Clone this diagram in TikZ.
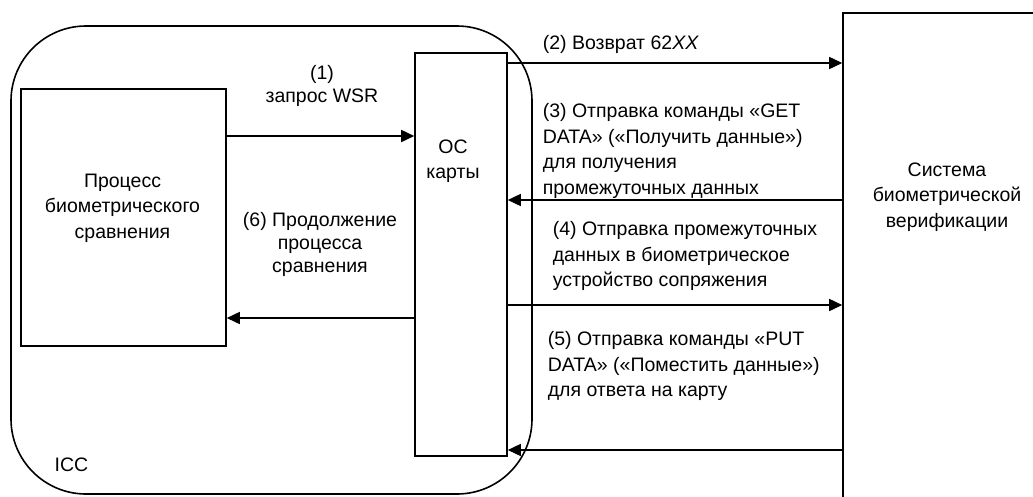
\documentclass[tikz,border=0pt]{standalone}
\usepackage{fontspec}
\setmainfont{Liberation Sans}
\usetikzlibrary{arrows.meta}

\begin{document}
\begin{tikzpicture}[x=1pt,y=-1pt,->,>={Triangle[length=13pt,width=12pt]},line width=1.6pt,
  box node/.style={draw,rectangle,inner sep=0pt},
  name txt/.style={font=\fontsize{19.5}{25.5}\selectfont,inner sep=0pt,align=center},
  step txt/.style={font=\fontsize{19.5}{23}\selectfont,inner sep=0pt,align=center},
  msg/.style={font=\fontsize{19.5}{25.5}\selectfont,inner sep=0pt,align=left,anchor=north west}]

  \useasboundingbox (0,0) rectangle (1033,496);

  \node[box node,rounded corners=75pt,minimum width=521pt,minimum height=468pt] (icc) at (271.5,260) {};
  \node[box node,minimum width=205pt,minimum height=257pt] (proc) at (123.5,217.5) {};
  \node[box node,minimum width=92pt,minimum height=403pt] (os) at (461,254.5) {};
  \node[box node,minimum width=250pt,minimum height=560pt] (bvs) at (968,293) {};

  \node[name txt] (icc txt) at (71.5,465) {ICC};
  \node[name txt] (proc txt) at (122.5,208) {Процесс\\биометрического\\сравнения};
  \node[name txt] (os txt) at (453,161) {ОС\\карты};
  \node[name txt] (bvs txt) at (947,197) {Система\\биометрической\\верификации};

  \node[step txt] (m1) at (322,86) {(1)\\запрос WSR};
  \node[step txt] (m6) at (320,244) {(6) Продолжение\\процесса\\сравнения};
  \node[msg] (m2) at (542,35) {(2) Возврат 62\textit{XX}};
  \node[msg] (m3) at (542,103) {(3) Отправка команды «GET\\DATA» («Получить данные»)\\для получения\\промежуточных данных};
  \node[msg] (m4) at (552,221) {(4) Отправка промежуточных\\данных в биометрическое\\устройство сопряжения};
  \node[msg] (m5) at (547,331) {(5) Отправка команды «PUT\\DATA» («Поместить данные»)\\для ответа на карту};

  \coordinate (y1) at (0,136);
  \coordinate (y2) at (0,63);
  \coordinate (y3) at (0,200);
  \coordinate (y4) at (0,305);
  \coordinate (y5) at (0,450);
  \coordinate (y6) at (0,318);

  \path
    (proc.east |- y1) edge (os.west |- y1)
    (os.west |- y6) edge (proc.east |- y6)
    (os.east |- y2) edge (bvs.west |- y2)
    (bvs.west |- y3) edge (os.east |- y3)
    (os.east |- y4) edge (bvs.west |- y4)
    (bvs.west |- y5) edge (os.east |- y5)
    ;

\end{tikzpicture}
\end{document}
